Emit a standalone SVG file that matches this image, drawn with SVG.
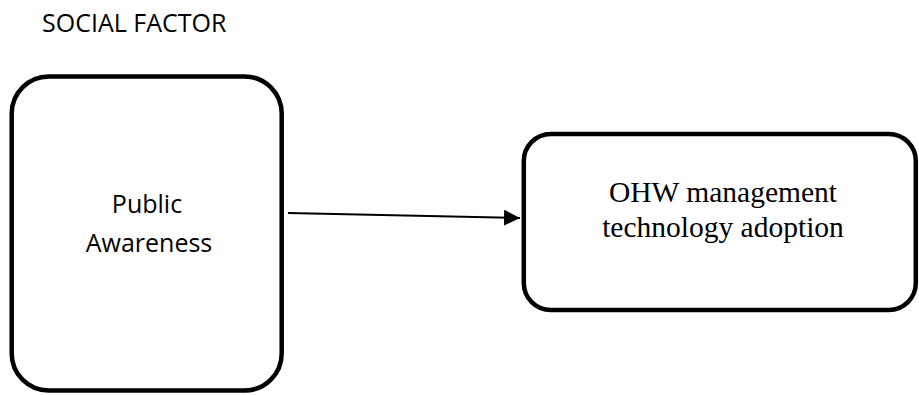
<svg xmlns="http://www.w3.org/2000/svg" width="919" height="395" viewBox="0 0 919 395">
  <style>
    .box { fill: #ffffff; stroke: #000000; stroke-width: 4.5; }
    .sans { font-family: "Open Sans", "Liberation Sans", sans-serif; font-size: 25px; fill: #000000; }
    .serif { font-family: "Liberation Serif", "Times New Roman", serif; font-size: 29.5px; fill: #000000; }
    .conn { stroke: #000000; stroke-width: 2; fill: none; }
  </style>
  <defs>
    <marker id="arrow" markerUnits="userSpaceOnUse" markerWidth="16" markerHeight="16" refX="16" refY="8" orient="auto">
      <path d="M0,0 L16,8 L0,16 Z" fill="#000000"/>
    </marker>
  </defs>
  <rect width="919" height="395" fill="#ffffff"/>
  <text class="sans" x="42" y="32">SOCIAL FACTOR</text>
  <g id="node-public-awareness">
    <rect class="box" x="11.7" y="76.5" width="270" height="314" rx="37" ry="37"/>
    <text class="sans" x="147" y="213" text-anchor="middle">Public</text>
    <text class="sans" x="149" y="252" text-anchor="middle">Awareness</text>
  </g>
  <g id="node-ohw-adoption">
    <rect class="box" x="523.8" y="134" width="392" height="176" rx="27" ry="27"/>
    <text class="serif" x="723" y="202" text-anchor="middle">OHW management</text>
    <text class="serif" x="723" y="237" text-anchor="middle">technology adoption</text>
  </g>
  <g id="connectors">
    <line class="conn" x1="288" y1="213" x2="520" y2="218" marker-end="url(#arrow)"/>
  </g>
</svg>
